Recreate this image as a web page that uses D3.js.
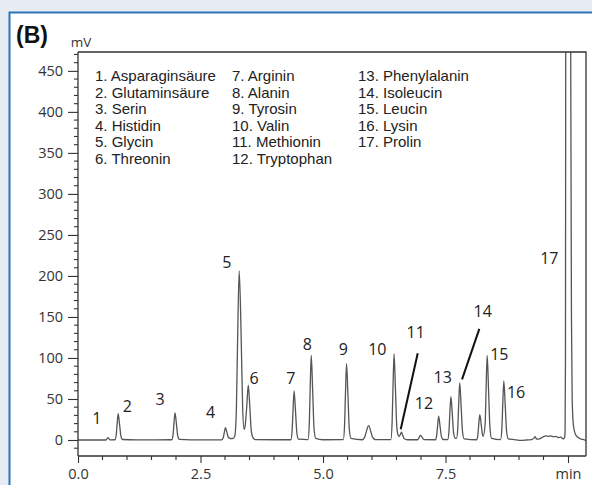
<!DOCTYPE html>
<html>
<head>
<meta charset="utf-8">
<script src="https://cdn.jsdelivr.net/npm/d3@7"></script>
<style>
  html, body { margin: 0; padding: 0; background: #e7ebf3; }
  svg { display: block; }
</style>
</head>
<body>
<svg id="chart" width="592" height="485"></svg>
<script>
// ---------- DATA ----------
// chromatogram trace: [time (min), signal (mV)]
const trace = [
  [0.00,0],[0.57,0],[0.61,3],[0.65,0.2],
  [0.754,0.3],[0.78,6.4],[0.798,19],[0.82,32],[0.848,19],[0.876,4.8],[0.91,0.6],
  [1.20,0.2],[1.914,0.3],[1.94,6.6],[1.958,20],[1.98,33],[2.008,20],[2.036,5],[2.07,0.7],[2.30,0.1],
  [2.93,0.2],[2.965,3],[2.985,9],[3.01,15],[3.04,9],[3.07,3],[3.11,1.8],
  [3.17,2],[3.20,5],[3.232,37],[3.258,125],[3.29,206],[3.33,125],[3.36,40],[3.39,13],
  [3.41,17],[3.445,42],[3.475,67],[3.505,42],[3.535,12],[3.57,3],[3.62,0.5],
  [4.344,0.3],[4.37,12],[4.388,36],[4.41,60],[4.438,36],[4.466,9],[4.50,1],
  [4.694,0.5],[4.72,20],[4.738,62],[4.76,103],[4.788,62],[4.816,15],[4.85,2],
  [5.00,0.3],[5.414,0.5],[5.44,18],[5.458,56],[5.48,93],[5.508,56],[5.536,14],[5.57,2],
  [5.80,0.3],[5.85,3.5],[5.885,10.5],[5.93,17.5],[5.975,10.5],[6.01,3.5],[6.07,0.5],
  [6.384,0.5],[6.41,21],[6.428,63],[6.45,105],[6.478,63],[6.506,16],[6.54,5],
  [6.555,4.5],[6.58,7],[6.60,9.5],[6.625,6],[6.66,1.5],[6.72,0.3],
  [6.93,0.3],[6.965,3.5],[6.99,6],[7.02,3.5],[7.06,0.5],
  [7.294,0.3],[7.32,6],[7.338,17],[7.36,29],[7.388,17],[7.416,4.5],[7.45,0.6],
  [7.544,0.5],[7.57,10.5],[7.588,32],[7.61,53],[7.638,32],[7.666,8],[7.70,2],
  [7.724,2],[7.75,14],[7.768,42],[7.79,70],[7.818,42],[7.846,11],[7.88,1.5],
  [8.134,0.3],[8.16,6],[8.178,19],[8.20,31],[8.228,19],[8.256,6],[8.27,4.5],
  [8.31,21],[8.328,62],[8.35,103],[8.378,62],[8.406,16],[8.44,2],
  [8.624,0.5],[8.65,14],[8.668,43],[8.69,72],[8.718,43],[8.746,11],[8.78,1.5],
  [8.90,0.5],[9.05,-0.5],[9.15,0],[9.25,0.5],[9.30,2],[9.33,4],[9.36,1],[9.42,1.5],
  [9.50,4],[9.55,5],[9.60,4.5],[9.65,5],[9.70,4],[9.75,4.5],[9.80,3],[9.85,3.5],[9.90,1.5],
  [9.93,3],[9.94,10],[9.948,100],[9.953,480],[9.97,900],[10.00,1100],[10.04,900],[10.055,480],
  [10.07,150],[10.085,50],[10.11,18],[10.16,6],[10.25,1.5],[10.34,0],[10.37,-1]
];

// peak numbers and where their labels sit [time, mV]
const peakLabels = ["1","2","3","4","5","6","7","8","9","10","11","12","13","14","15","16","17"];
const peakLabelPos = [
  [0.382,27],[1.006,42],[1.673,50],[2.708,34],[3.035,217],[3.592,76],[4.341,76],[4.680,117],
  [5.414,111],[6.108,111],[6.892,132],[7.061,45],[7.443,77],[8.259,157],[8.598,104.5],[8.939,58],[9.618,222]
];
// leader lines [[t1,mV1],[t2,mV2]]
const leaders = [
  [[6.933,105.7],[6.586,13]],
  [[8.190,135.4],[7.837,74]]
];

// legend
const legendCol1 = ["1. Asparaginsäure","2. Glutaminsäure","3. Serin","4. Histidin","5. Glycin","6. Threonin"];
const legendCol2 = ["7. Arginin","8. Alanin","9. Tyrosin","10. Valin","11. Methionin","12. Tryptophan"];
const legendCol3 = ["13. Phenylalanin","14. Isoleucin","15. Leucin","16. Lysin","17. Prolin"];

// axes
const yTicks = [0,50,100,150,200,250,300,350,400,450];
const xTicks = [0,2.5,5,7.5,10];
const xTickLabels = ["0.0","2.5","5.0","7.5","min"];
const xDomain = [0, 10.367];
const yDomain = [-19.5, 473];

// ---------- DRAW ----------
const svg = d3.select("#chart");
const L = 78, R = 586, T = 52, B = 456;
const tickFont = "'Open Sans', 'Noto Sans', sans-serif";
const legendFont = "'Liberation Sans', Arial, sans-serif";

// panel
svg.append("rect").attr("x",0).attr("y",0).attr("width",592).attr("height",485).attr("fill","#e7ebf3");
svg.append("rect").attr("x",9.5).attr("y",12.5).attr("width",700).attr("height",600)
  .attr("fill","#ffffff").attr("stroke","#2b74b5").attr("stroke-width",2);

const x = d3.scaleLinear().domain(xDomain).range([L, R]);
const y = d3.scaleLinear().domain(yDomain).range([B, T]);

svg.append("defs").append("clipPath").attr("id","clip")
  .append("rect").attr("x",L).attr("y",T).attr("width",R-L).attr("height",B-T);

// trace
const line = d3.line().x(d => x(d[0])).y(d => y(d[1])).curve(d3.curveMonotoneX);
svg.append("path").datum(trace).attr("clip-path","url(#clip)")
  .attr("d", line).attr("fill","none").attr("stroke","#555").attr("stroke-width",1.3)
  .attr("stroke-linejoin","round");

// frame (top + right)
svg.append("path").attr("d",`M${L},${T}H${R}V${B}`).attr("fill","none")
  .attr("stroke","#333").attr("stroke-width",1.3);

// y axis
const yAxis = d3.axisLeft(y).tickValues(yTicks).tickSize(10).tickPadding(5).tickFormat(d3.format("d"));
const gy = svg.append("g").attr("transform",`translate(${L},0)`).call(yAxis);
gy.select(".domain").attr("d",`M0,${T}V${B}`).attr("stroke","#333").attr("stroke-width",1.3);
gy.selectAll(".tick line").attr("stroke","#333").attr("stroke-width",1.1);
gy.selectAll(".tick text").attr("font-family",tickFont).attr("font-size",14.5).attr("fill","#333");
const yMinor = d3.range(-10, 471, 10).filter(v => v % 50 !== 0);
svg.append("g").selectAll("line").data(yMinor).join("line")
  .attr("x1",L-4).attr("x2",L).attr("y1",d=>y(d)).attr("y2",d=>y(d))
  .attr("stroke","#333").attr("stroke-width",1.1);

// x axis
const xAxis = d3.axisBottom(x).tickValues(xTicks).tickSize(7).tickPadding(6)
  .tickFormat((d,i) => xTickLabels[i]);
const gx = svg.append("g").attr("transform",`translate(0,${B})`).call(xAxis);
gx.select(".domain").attr("d",`M${L},0H${R}`).attr("stroke","#333").attr("stroke-width",1.3);
gx.selectAll(".tick line").attr("stroke","#333").attr("stroke-width",1.1);
gx.selectAll(".tick text").attr("font-family",tickFont).attr("font-size",14.5).attr("fill","#333");
const xMinor = d3.range(0.5, 10.3, 0.5).filter(v => Math.abs(v/2.5 - Math.round(v/2.5)) > 1e-6);
svg.append("g").selectAll("line").data(xMinor).join("line")
  .attr("x1",d=>x(d)).attr("x2",d=>x(d)).attr("y1",B).attr("y2",B+4)
  .attr("stroke","#333").attr("stroke-width",1.1);

// unit label and panel letter
svg.append("text").attr("x",81).attr("y",47).attr("text-anchor","middle")
  .attr("font-family",tickFont).attr("font-size",13.5).attr("fill","#333").text("mV");
svg.append("text").attr("x",16).attr("y",43).attr("font-family",legendFont)
  .attr("font-weight","bold").attr("font-size",23).attr("fill","#111").text("(B)");

// peak labels
svg.append("g").selectAll("text").data(peakLabels).join("text")
  .attr("x",(d,i)=>x(peakLabelPos[i][0])).attr("y",(d,i)=>y(peakLabelPos[i][1]))
  .attr("text-anchor","middle").attr("dominant-baseline","central")
  .attr("font-family",tickFont).attr("font-size",16).attr("fill","#222").text(d=>d);

// leader lines
svg.append("g").selectAll("line").data(leaders).join("line")
  .attr("x1",d=>x(d[0][0])).attr("y1",d=>y(d[0][1]))
  .attr("x2",d=>x(d[1][0])).attr("y2",d=>y(d[1][1]))
  .attr("stroke","#111").attr("stroke-width",2);

// legend
const cols = [[legendCol1,95],[legendCol2,232],[legendCol3,358]];
cols.forEach(([items,cx]) => {
  svg.append("g").selectAll("text").data(items).join("text")
    .attr("x",cx).attr("y",(d,i)=>81 + i*16.6)
    .attr("font-family",legendFont).attr("font-size",15).attr("fill","#222").text(d=>d);
});
</script>
</body>
</html>
